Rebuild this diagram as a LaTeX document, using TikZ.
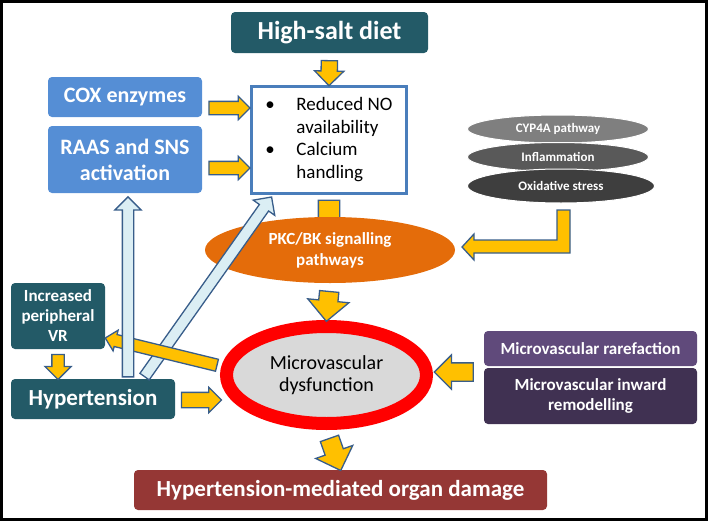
\documentclass[tikz,border=0pt]{standalone}
\usepackage{fontspec}
\setmainfont{Carlito}
\usetikzlibrary{shapes.geometric,shapes.arrows}

\definecolor{tealbox}{RGB}{35,90,103}
\definecolor{bluebox}{RGB}{85,142,213}
\definecolor{oxblue}{RGB}{74,126,187}
\definecolor{arrowline}{RGB}{56,93,138}
\definecolor{gold}{RGB}{255,192,0}
\definecolor{paleblue}{RGB}{219,238,244}
\definecolor{pkcorange}{RGB}{228,108,10}
\definecolor{cypgray}{RGB}{127,127,127}
\definecolor{inflgray}{RGB}{89,89,89}
\definecolor{oxsgray}{RGB}{62,62,62}
\definecolor{mvgray}{RGB}{217,217,217}
\definecolor{rareviolet}{RGB}{96,74,123}
\definecolor{remodviolet}{RGB}{64,49,82}
\definecolor{damagered}{RGB}{149,55,53}

\begin{document}
\begin{tikzpicture}[x=1pt,y=-1pt,
  box/.style={rounded corners=4pt, text=white, align=center, inner sep=0pt},
  oval/.style={ellipse, inner sep=0pt, align=center},
  yarrow/.style 2 args={single arrow, draw=arrowline, fill=gold, line width=1.3pt, inner xsep=0pt,
    inner ysep=#1, sloped, allow upside down, single arrow head extend=#2},
  barrow/.style={single arrow, draw=arrowline, fill=paleblue, line width=1.3pt, inner xsep=0pt,
    inner ysep=5pt, sloped, allow upside down, single arrow head extend=7.5pt}
]

\useasboundingbox (0,0) rectangle (709,522);
\draw [line width=3pt] (1.5,1.5) rectangle (706.5,519.5);

% top part
\node [box, fill=tealbox, minimum width=197pt, minimum height=41pt, font=\bfseries\fontsize{26}{30}\selectfont] (hsd) at (329.5,32.5) {High-salt diet};
\node [box, fill=bluebox, minimum width=154pt, minimum height=40pt, font=\bfseries\fontsize{22}{26}\selectfont] (cox) at (125,97) {COX enzymes};
\node [box, fill=bluebox, minimum width=154pt, minimum height=67pt, font=\bfseries\fontsize{22}{26}\selectfont] (raas) at (125,159.5) {RAAS and SNS\\activation};
\node [draw=oxblue, line width=3pt, fill=white, minimum width=155pt, minimum height=107pt, inner sep=0pt, font=\fontsize{19}{22.5}\selectfont] (ox) at (329,140)
  {\begin{tabular}{@{}p{31pt}@{}l@{}}\textbullet & Reduced NO\\ & availability\\ \textbullet & Calcium\\ & handling\end{tabular}};

\path (ox.south) -- node [yarrow={10pt}{8pt}, minimum height=50pt] (a4) {} ++(0,50);

\node [oval, fill=pkcorange, minimum width=250pt, minimum height=66pt, text=white, font=\bfseries\fontsize{17}{21}\selectfont] (pkc) at (330,250) {PKC/BK signalling\\pathways};

% right stack
\node [oval, fill=cypgray, draw=white, line width=1pt, minimum width=181pt, minimum height=28pt, text=white, font=\bfseries\fontsize{13}{15}\selectfont] (cyp) at (558,129) {CYP4A pathway};
\node [oval, fill=inflgray, draw=white, line width=1pt, minimum width=181pt, minimum height=29pt, text=white, font=\bfseries\fontsize{13}{15}\selectfont] (infl) at (558,157) {Inflammation};
\node [oval, fill=oxsgray, draw=white, line width=1pt, minimum width=187pt, minimum height=34pt, text=white, font=\bfseries\fontsize{13}{15}\selectfont] (oxs) at (561,186) {Oxidative stress};

\draw [line width=1.3pt, draw=arrowline, fill=gold] (557,210) -- (570,210) -- (570,253) -- (474,253) -- (474,260) -- (462,247) -- (474,234) -- (474,240) -- (557,240) -- cycle;

% middle and bottom
\node [oval, draw=red, line width=13pt, fill=mvgray, minimum width=200pt, minimum height=97pt, font=\fontsize{20}{22}\selectfont] (mvd) at (326.5,375) {Microvascular\\dysfunction};
\node [box, fill=tealbox, minimum width=94pt, minimum height=66pt, font=\bfseries\fontsize{17}{20}\selectfont] (vr) at (58,316) {Increased\\peripheral\\VR};
\node [box, fill=tealbox, minimum width=164pt, minimum height=40pt, font=\bfseries\fontsize{23}{27}\selectfont] (hyp) at (93,399) {Hypertension};
\node [box, fill=rareviolet, minimum width=213pt, minimum height=35pt, font=\bfseries\fontsize{17}{20}\selectfont] (mvr) at (590.5,348.5) {Microvascular rarefaction};
\node [box, fill=remodviolet, minimum width=213pt, minimum height=56pt, font=\bfseries\fontsize{17}{20}\selectfont] (mvir) at (590.5,396) {Microvascular inward\\remodelling};
\node [box, fill=damagered, minimum width=413pt, minimum height=40pt, font=\bfseries\fontsize{23}{27}\selectfont] (ohmod) at (340.5,490) {Hypertension-mediated organ damage};

% yellow arrows
\path (hsd.south) -- node [yarrow={7.5pt}{6.5pt}, minimum height=25pt] (a1) {} (ox.north);
\path (cox.east |- 0,108) -- node [yarrow={6pt}{5pt}, minimum height=41pt] (a2) {} (ox.west |- 0,108);
\path (raas.east |- 0,168) -- node [yarrow={6pt}{5pt}, minimum height=41pt] (a3) {} (ox.west |- 0,168);
\path (pkc.south) -- node [yarrow={9pt}{11pt}, minimum height=30pt] (a5) {} (mvd.north);
\path (mvd.south) -- node [yarrow={9pt}{10pt}, minimum height=34pt] (a6) {} (ohmod.north);
\path (vr.south) -- node [yarrow={5.5pt}{7pt}, minimum height=25pt] (a7) {} (vr.south |- hyp.north);
\path (hyp.east |- 0,400) -- node [yarrow={7pt}{5pt}, minimum height=40pt] (a8) {} (mvd.west |- 0,400);
\path (mvr.west |- 0,372) -- node [yarrow={8.5pt}{8pt}, minimum height=39pt] (a9) {} (mvd.east |- 0,372);

% feedback arrows
\path (hyp.north -| 143,0) -- node [barrow, minimum height=220pt, pos=0.488] (b2) {} (ox.south -| 273,0);
\path (mvd.west |- 0,366) -- node [yarrow={5.5pt}{4.5pt}, minimum height=115pt, pos=0.487] (a10) {} (vr.east |- 0,338);
\path (hyp.north -| 128,0) -- node [barrow, minimum height=180pt, pos=0.48] (b1) {} (raas.south -| 128,0);

\end{tikzpicture}
\end{document}
